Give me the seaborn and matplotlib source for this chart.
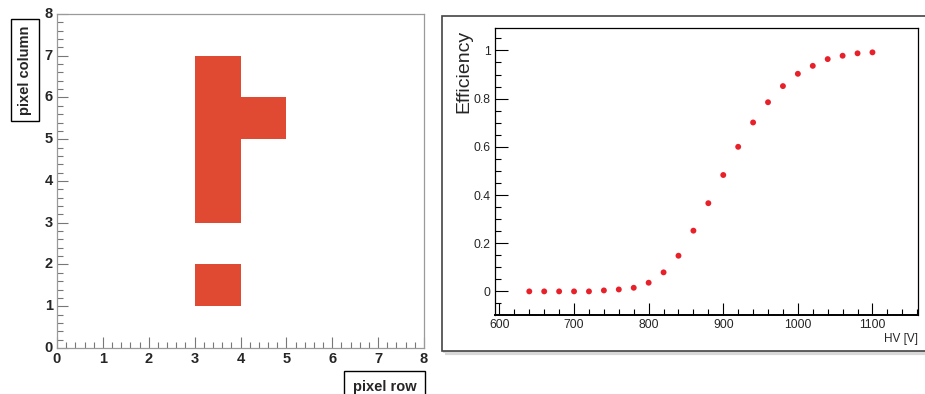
import numpy as np
import pandas as pd
import matplotlib.pyplot as plt
import seaborn as sns
from matplotlib.colors import ListedColormap
from matplotlib.patches import Rectangle
from matplotlib.ticker import MultipleLocator

# hit map: filled pixels (row, column)
hit_rows = [3, 3, 3, 3, 3, 4]
hit_cols = [1, 3, 4, 5, 6, 5]
n_pix = 8

# efficiency scan
hv = [640, 660, 680, 700, 720, 740, 760, 780, 800, 820, 840, 860,
      880, 900, 920, 940, 960, 980, 1000, 1020, 1040, 1060, 1080, 1100]
eff = [0.0, 0.0, 0.0, 0.0, 0.0, 0.004, 0.008, 0.015, 0.036, 0.079, 0.148, 0.252,
       0.366, 0.483, 0.600, 0.701, 0.785, 0.852, 0.903, 0.936, 0.964, 0.978, 0.988, 0.992]
eff_ticks = [0, 0.2, 0.4, 0.6, 0.8, 1]
eff_labels = ["0", "0.2", "0.4", "0.6", "0.8", "1"]

sns.set_style("white")
plt.rcParams["font.family"] = ["Liberation Sans", "DejaVu Sans"]

fig = plt.figure(figsize=(9.25, 3.94), dpi=100)

# ---- left: pixel hit map ----
ax1 = fig.add_axes([0.0616, 0.1168, 0.3968, 0.8477])
grid = np.zeros((n_pix, n_pix))
for r, c in zip(hit_rows, hit_cols):
    grid[c, r] = 1
sns.heatmap(pd.DataFrame(grid), mask=grid == 0, cmap=ListedColormap(["#E04A33"]),
            cbar=False, ax=ax1, square=False)
ax1.set_xlim(0, 8)
ax1.set_ylim(0, 8)
ax1.set_xticks(range(9))
ax1.set_yticks(range(9))
ax1.set_xticklabels([str(i) for i in range(9)], rotation=0, fontweight="bold", fontsize=10.5)
ax1.set_yticklabels([str(i) for i in range(9)], rotation=0, fontweight="bold", fontsize=10.5)
ax1.xaxis.set_minor_locator(MultipleLocator(0.2))
ax1.yaxis.set_minor_locator(MultipleLocator(0.2))
ax1.tick_params(which="both", direction="in", color="#777777", width=0.8,
                bottom=True, left=True, top=False, right=False)
ax1.tick_params(which="major", length=8)
ax1.tick_params(which="minor", length=4)
ax1.tick_params(axis="x", pad=3)
ax1.tick_params(axis="y", pad=3)
ax1.set_xlabel("")
ax1.set_ylabel("")
for sp in ax1.spines.values():
    sp.set_visible(True)
    sp.set_color("#9a9a9a")
    sp.set_linewidth(0.9)

fig.text(0.027, 0.822, "pixel column", rotation=90, ha="center", va="center",
         fontsize=10.5, fontweight="bold",
         bbox=dict(boxstyle="square,pad=0.45", fc="white", ec="black", lw=1))
fig.text(0.416, 0.018, "pixel row", ha="center", va="center",
         fontsize=10.5, fontweight="bold",
         bbox=dict(boxstyle="square,pad=0.6", fc="white", ec="black", lw=1))

# ---- right: efficiency vs HV ----
fig.patches.append(Rectangle((0.481, 0.103), 0.53, 0.850, transform=fig.transFigure,
                             fc="none", ec="#d8d8d8", lw=3, zorder=-2))
fig.patches.append(Rectangle((0.4778, 0.1091), 0.53, 0.850, transform=fig.transFigure,
                             fc="white", ec="#444444", lw=1.2, zorder=-1))

ax2 = fig.add_axes([0.5351, 0.2005, 0.4573, 0.7284])
ax2.set_zorder(2)
sns.scatterplot(x=hv, y=eff, ax=ax2, color="#E8202A", s=18, edgecolor="none")
ax2.set_xlim(594, 1161)
ax2.set_ylim(-0.098, 1.093)
ax2.set_xticks(range(600, 1101, 100))
ax2.set_yticks(eff_ticks)
ax2.set_yticklabels(eff_labels)
ax2.xaxis.set_minor_locator(MultipleLocator(20))
ax2.yaxis.set_minor_locator(MultipleLocator(0.05))
ax2.tick_params(which="both", direction="in", color="black", width=0.8,
                labelsize=8.8, bottom=True, left=True, top=False, right=False)
ax2.tick_params(which="major", length=9, pad=3)
ax2.tick_params(which="minor", length=4.5)
for sp in ax2.spines.values():
    sp.set_visible(True)
    sp.set_color("black")
    sp.set_linewidth(0.9)
ax2.spines["bottom"].set_linewidth(1.4)

fig.text(0.5016, 0.924, "Efficiency", rotation=90, ha="center", va="top", fontsize=14,
         zorder=3)
fig.text(0.992, 0.139, "HV [V]", ha="right", va="center", fontsize=8.5)

fig.savefig("out.png", dpi=100)
